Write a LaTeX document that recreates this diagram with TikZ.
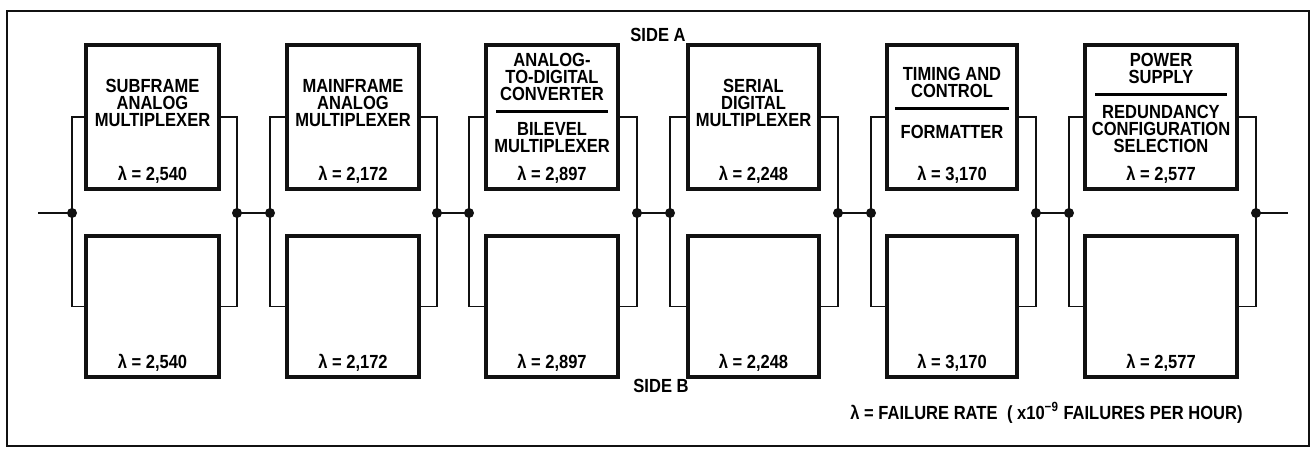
\documentclass[tikz,border=0pt]{standalone}
\usepackage{fontspec}
\setmainfont{Liberation Sans}[FakeStretch=0.87]
\usepackage{xcolor}
\definecolor{ink}{HTML}{111111}
\usetikzlibrary{positioning,calc}

\begin{document}
\begin{tikzpicture}[x=0.5pt,y=-0.5pt,font=\bfseries\fontsize{9.5}{8.6}\selectfont,
  blk/.style={draw=ink,line width=2.1pt,minimum height=72pt,inner sep=0pt},
  wire/.style={draw=ink,line width=0.8pt},
  dot/.style={circle,fill=ink,inner sep=0pt,minimum size=5pt}]
  \useasboundingbox (0,0) rectangle (1316,449);
  \draw[ink,line width=1.1pt] (7,11) rectangle (1309,446);
  % one stage per entry: number/centre/width/left bus/right bus/rate/name
  \foreach \n/\cx/\w/\lx/\rx/\lam/\txt in {
    1/152.5/66.5pt/72/237/{2,540}/{SUBFRAME\\ANALOG\\MULTIPLEXER},
    2/353/66pt/270/437/{2,172}/{MAINFRAME\\ANALOG\\MULTIPLEXER},
    3/552/66pt/469/637/{2,897}/{ANALOG-\\TO-DIGITAL\\CONVERTER\\\rule[2.6pt]{56pt}{1.5pt}\\BILEVEL\\MULTIPLEXER},
    4/753.5/65.5pt/670/838/{2,248}/{SERIAL\\DIGITAL\\MULTIPLEXER},
    5/952/65pt/871/1036/{3,170}/{TIMING AND\\CONTROL\\\rule[2.6pt]{57pt}{1.5pt}\\[3pt]FORMATTER},
    6/1161/76pt/1069/1256/{2,577}/{POWER\\SUPPLY\\\rule[2.6pt]{66pt}{1.5pt}\\REDUNDANCY\\CONFIGURATION\\SELECTION}} {
    \node[blk,minimum width=\w] (a\n) at (\cx,117) {};
    \node[blk,minimum width=\w,minimum height=70.5pt] (b\n) at (\cx,306.5) {};
    \node[align=center,inner sep=0pt] (t\n) at (\cx,103) {\txt};
    \node[inner sep=0pt] (ra\n) at (\cx,175) {λ = \lam};
    \node[inner sep=0pt] (rb\n) at (\cx,363) {λ = \lam};
    \coordinate (l\n) at (\lx,213);
    \coordinate (r\n) at (\rx,213);
    \draw[wire] (a\n.west) -| (l\n) |- (b\n.west);
    \draw[wire] (a\n.east) -| (r\n) |- (b\n.east);
    \node[dot] at (l\n) {};
    \node[dot] at (r\n) {};
  }
  \foreach \n [evaluate=\n as \m using int(\n+1)] in {1,...,5}
    \draw[wire] (r\n) -- (l\m);
  \coordinate (in) at (38,213);
  \coordinate (out) at (1288,213);
  \draw[wire] (in) -- (l1);
  \draw[wire] (r6) -- (out);
  \node (sidea) at (658,35) {SIDE A};
  \node (sideb) at (661,386) {SIDE B};
  \node[anchor=east,inner sep=0pt] (key) at (1243,413)
    {λ = FAILURE RATE\enspace( x10\textsuperscript{−9} FAILURES PER HOUR)};
\end{tikzpicture}
\end{document}
